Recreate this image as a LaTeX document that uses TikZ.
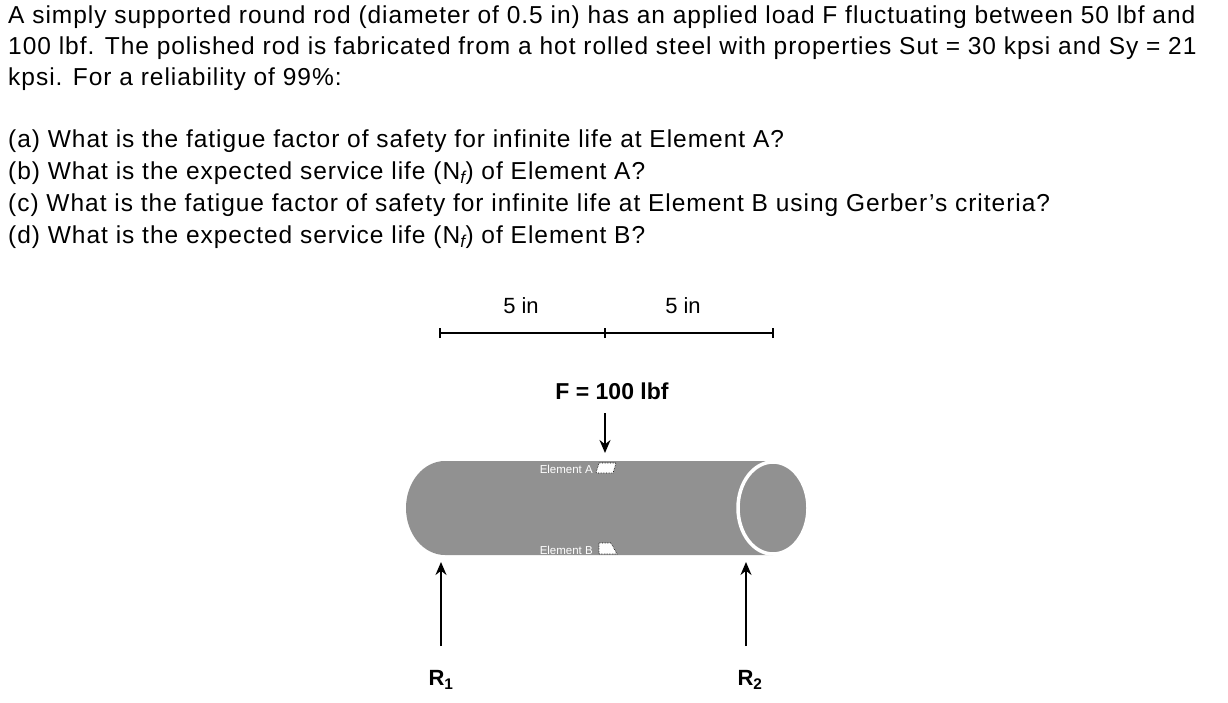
\documentclass[tikz,border=0pt]{standalone}
\usepackage{fontspec}
\usetikzlibrary{arrows.meta}
\setmainfont{Liberation Sans}
\newfontfamily\widefont[LetterSpace=4]{Liberation Sans}
\begin{document}
\begin{tikzpicture}[x=1pt,y=-1pt,
  txt/.style={anchor=west,inner sep=0pt,font=\widefont\fontsize{24.5}{28}\selectfont},
  dim/.style={font=\fontsize{22}{25}\selectfont,inner sep=0pt},
  arr/.style={-{Stealth[length=13pt,width=11pt]},line width=1.8pt},
  elem/.style={font=\fontsize{11.5}{13}\selectfont,text=white,inner sep=0pt,anchor=east},
  elbox/.style={fill=white,draw=black,densely dotted,line width=0.6pt}]
\useasboundingbox (0,0) rectangle (1228,703);
\node[txt] (l1) at (8,17) {A simply supported round rod (diameter of 0.5 in) has an applied load F fluctuating between 50 lbf and};
\node[txt] (l2) at (8,48) {100 lbf. The polished rod is fabricated from a hot rolled steel with properties Sut = 30 kpsi and Sy = 21};
\node[txt] (l3) at (8,79) {kpsi. For a reliability of 99\%:};
\node[txt] (qa) at (8,141) {(a) What is the fatigue factor of safety for infinite life at Element A?};
\node[txt] (qb) at (8,173) {(b) What is the expected service life (N\textsubscript{\itshape f}) of Element A?};
\node[txt] (qc) at (8,205) {(c) What is the fatigue factor of safety for infinite life at Element B using Gerber’s criteria?};
\node[txt] (qd) at (8,237) {(d) What is the expected service life (N\textsubscript{\itshape f}) of Element B?};
% dimension
\coordinate (d0) at (440,333); \coordinate (d1) at (605,333); \coordinate (d2) at (773,333);
\draw[line width=1.1pt] (d0) -- (d2);
\foreach \p in {d0,d1,d2} \draw[line width=1.1pt] ([yshift=-5]\p) -- ([yshift=5]\p);
\node[dim] (w1) at (521,306) {5 in};
\node[dim] (w2) at (683,306) {5 in};
% rod
\fill[black!43] (445,461) -- (773,461) -- (773,555) -- (445,555)
  arc[start angle=90,end angle=270,x radius=39,y radius=47] -- cycle;
\fill[black!43,draw=white,line width=3.5pt] (773,508) ellipse[x radius=35,y radius=46];
\node[elem] (ea) at (593,469) {Element A};
\draw[elbox] (599,463) -- (616,463) -- (613,473) -- (596,473) -- cycle;
\node[elem] (eb) at (593,550) {Element B};
\draw[elbox] (599,543) -- (611,543) -- (617,554) -- (599,554) -- cycle;
% load
\node[font=\bfseries\fontsize{23}{26}\selectfont,inner sep=0pt] (F) at (612,391) {F = 100 lbf};
\coordinate (Ft) at (605,413); \coordinate (Fb) at (605,453);
\draw[arr] (Ft) -- (Fb);
\coordinate (r1b) at (441,646); \coordinate (r1t) at (441,562);
\coordinate (r2b) at (746,646); \coordinate (r2t) at (746,562);
\draw[arr] (r1b) -- (r1t);
\draw[arr] (r2b) -- (r2t);
\node[font=\bfseries\fontsize{22}{24}\selectfont,inner sep=0pt] (R1) at (441,680) {R\textsubscript{1}};
\node[font=\bfseries\fontsize{22}{24}\selectfont,inner sep=0pt] (R2) at (750,680) {R\textsubscript{2}};
\end{tikzpicture}
\end{document}
